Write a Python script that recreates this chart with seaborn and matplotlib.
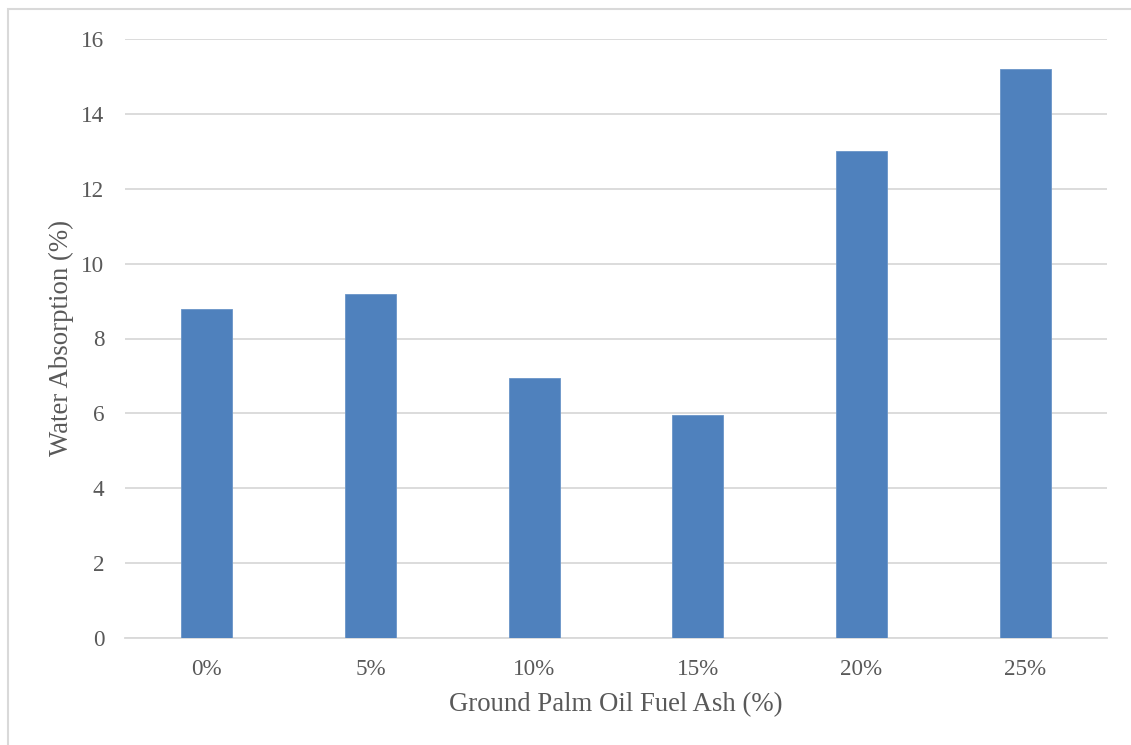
import matplotlib
matplotlib.use("Agg")
import matplotlib.pyplot as plt
import seaborn as sns
import pandas as pd
from matplotlib.patches import Rectangle

# Water absorption by ground palm oil fuel ash replacement level
gpofa_levels = ["0%", "5%", "10%", "15%", "20%", "25%"]
water_absorption = [8.78, 9.20, 6.94, 5.96, 13.02, 15.20]
y_ticks = [0, 2, 4, 6, 8, 10, 12, 14, 16]

df = pd.DataFrame({"level": gpofa_levels, "absorption": water_absorption})

sns.set_theme(style="white")
plt.rcParams["font.family"] = ["Liberation Serif", "DejaVu Serif"]

W, H = 1131, 745
fig = plt.figure(figsize=(W / 100, H / 100), dpi=100)
ax = fig.add_axes([125 / W, (H - 638) / H, (1107 - 125) / W, (638 - 39) / H])

sns.barplot(data=df, x="level", y="absorption", color="#4F81BD",
            saturation=1, width=0.31, ax=ax, edgecolor="#6A95C8", linewidth=0.6,
            zorder=3)

text_color = "#595959"
grid_color = "#D9D9D9"

ax.set_ylim(0, 16)
ax.set_xlim(-0.5, len(gpofa_levels) - 0.5)
ax.set_yticks(y_ticks)
ax.yaxis.grid(True, color=grid_color, linewidth=1.3, zorder=0)
ax.set_axisbelow(True)
for side in ["top", "right", "left"]:
    ax.spines[side].set_visible(False)
ax.spines["bottom"].set_color(grid_color)
ax.spines["bottom"].set_linewidth(1.3)
ax.tick_params(axis="both", length=0, labelsize=16.7, colors=text_color)
ax.tick_params(axis="y", pad=15)
ax.tick_params(axis="x", pad=15)

ax.set_xlabel("Ground Palm Oil Fuel Ash (%)", fontsize=19.3, color=text_color, labelpad=8.8)
ax.set_ylabel("Water Absorption (%)", fontsize=19.3, color=text_color, labelpad=5)

# Chart frame
fig.patches.append(Rectangle((8 / W, -0.05), 1.2, (H - 9) / H + 0.05,
                             transform=fig.transFigure, fill=False,
                             edgecolor="#D9D9D9", linewidth=1.5))

fig.savefig("out.png", dpi=100, facecolor="white")
